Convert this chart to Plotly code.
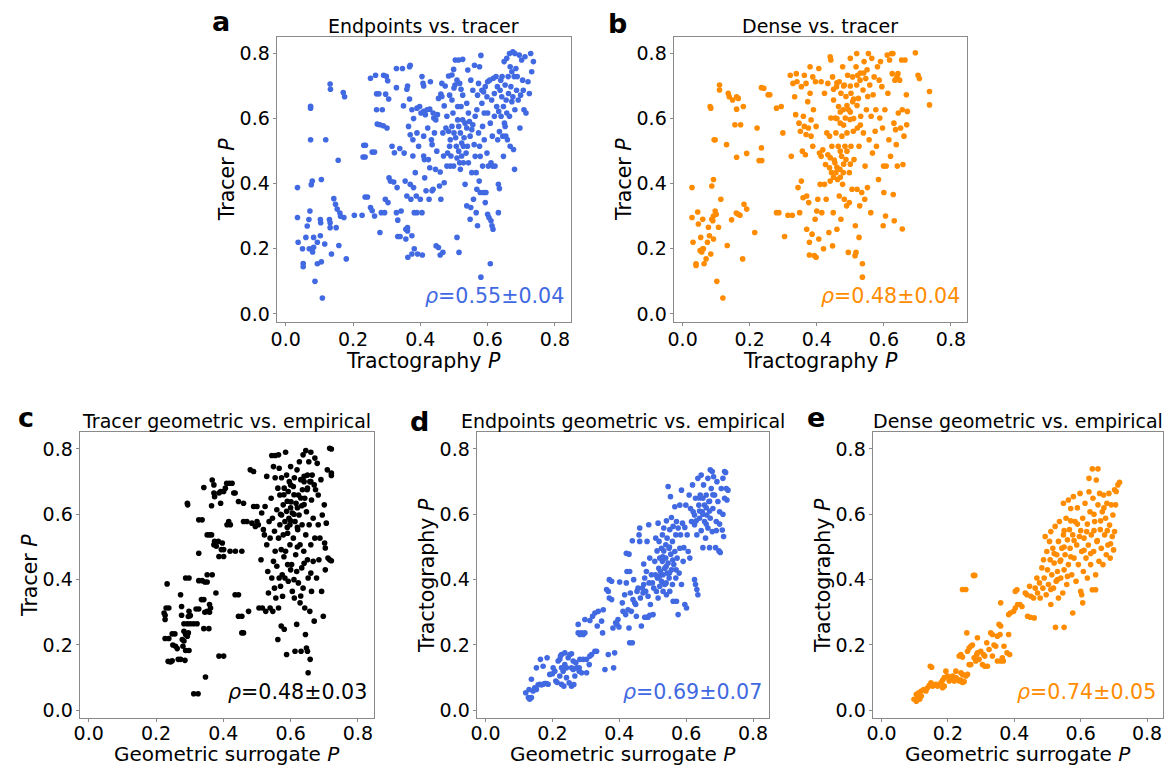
import plotly.graph_objects as go

# ---------------- data ----------------
tick_vals = [0.0, 0.2, 0.4, 0.6, 0.8]
tick_text = ["0.0", "0.2", "0.4", "0.6", "0.8"]

# a: Endpoints vs. tracer  (x = Tractography P, y = Tracer P)
endpoints_vs_tracer = [
    (0.035,0.388),(0.035,0.296),(0.037,0.22),(0.05,0.2),(0.052,0.155),(0.052,0.145),(0.06,0.235),(0.064,0.27),(0.069,0.29),(0.072,0.316),
    (0.074,0.638),(0.074,0.632),(0.074,0.535),(0.076,0.397),(0.079,0.408),(0.07,0.2),(0.08,0.19),(0.083,0.205),(0.083,0.235),(0.087,0.1),
    (0.094,0.22),(0.094,0.154),(0.103,0.29),(0.104,0.28),(0.103,0.24),(0.106,0.413),(0.106,0.16),(0.109,0.049),(0.116,0.215),(0.119,0.535),
    (0.13,0.29),(0.132,0.28),(0.132,0.706),(0.133,0.69),(0.132,0.265),(0.136,0.184),(0.143,0.354),(0.148,0.337),(0.15,0.265),(0.153,0.322),
    (0.156,0.472),(0.158,0.21),(0.161,0.31),(0.163,0.3),(0.171,0.68),(0.175,0.667),(0.173,0.296),(0.18,0.169),(0.204,0.303),(0.227,0.303),
    (0.23,0.482),(0.236,0.482),(0.232,0.518),(0.237,0.518),(0.236,0.359),(0.243,0.359),(0.252,0.724),(0.252,0.327),(0.257,0.317),(0.257,0.497),
    (0.264,0.497),(0.264,0.301),(0.267,0.733),(0.27,0.676),(0.27,0.627),(0.272,0.583),(0.28,0.581),(0.277,0.676),(0.28,0.25),(0.284,0.311),
    (0.287,0.627),(0.29,0.578),(0.291,0.733),(0.294,0.311),(0.296,0.352),(0.297,0.675),(0.299,0.73),(0.301,0.571),(0.303,0.716),(0.304,0.342),
    (0.306,0.66),(0.307,0.418),(0.311,0.408),(0.316,0.515),(0.321,0.405),(0.323,0.495),(0.329,0.695),(0.329,0.754),(0.329,0.311),(0.331,0.388),
    (0.333,0.288),(0.333,0.238),(0.34,0.238),(0.339,0.508),(0.343,0.316),(0.347,0.754),(0.35,0.639),(0.352,0.494),(0.355,0.408),(0.357,0.26),
    (0.362,0.255),(0.362,0.265),(0.357,0.23),(0.36,0.69),(0.362,0.7),(0.36,0.362),(0.363,0.174),(0.365,0.576),(0.368,0.759),(0.37,0.764),
    (0.368,0.66),(0.37,0.55),(0.37,0.398),(0.372,0.352),(0.375,0.627),(0.375,0.24),(0.375,0.184),(0.378,0.535),(0.378,0.485),(0.38,0.6),
    (0.38,0.388),(0.382,0.311),(0.39,0.311),(0.382,0.2),(0.385,0.434),(0.388,0.362),(0.39,0.632),(0.39,0.556),(0.392,0.184),(0.395,0.515),
    (0.398,0.637),(0.4,0.352),(0.402,0.617),(0.405,0.729),(0.405,0.311),(0.406,0.181),(0.408,0.708),(0.41,0.7),(0.41,0.622),(0.41,0.546),
    (0.41,0.485),(0.412,0.474),(0.413,0.418),(0.415,0.612),(0.417,0.378),(0.42,0.627),(0.422,0.571),(0.424,0.474),(0.426,0.352),(0.428,0.629),
    (0.428,0.449),(0.43,0.713),(0.433,0.535),(0.435,0.52),(0.435,0.378),(0.438,0.383),(0.438,0.617),(0.44,0.602),(0.442,0.556),(0.445,0.444),
    (0.446,0.596),(0.447,0.209),(0.454,0.204),(0.449,0.5),(0.451,0.612),(0.454,0.662),(0.457,0.393),(0.459,0.436),(0.459,0.181),(0.461,0.675),
    (0.461,0.352),(0.464,0.668),(0.464,0.708),(0.467,0.189),(0.467,0.556),(0.469,0.485),(0.471,0.639),(0.471,0.403),(0.474,0.7),(0.476,0.571),
    (0.479,0.607),(0.479,0.454),(0.481,0.494),(0.484,0.561),(0.484,0.731),(0.487,0.672),(0.487,0.515),(0.489,0.535),(0.489,0.454),(0.491,0.485),
    (0.494,0.734),(0.494,0.657),(0.494,0.576),(0.497,0.617),(0.499,0.751),(0.499,0.454),(0.5,0.694),(0.503,0.703),(0.5,0.556),(0.504,0.78),
    (0.505,0.541),(0.507,0.515),(0.509,0.718),(0.509,0.479),(0.509,0.235),(0.511,0.637),(0.511,0.596),(0.514,0.78),(0.514,0.576),(0.514,0.5),
    (0.515,0.189),(0.517,0.708),(0.517,0.464),(0.519,0.556),(0.519,0.444),(0.521,0.69),(0.521,0.637),(0.523,0.525),(0.523,0.485),(0.526,0.782),
    (0.526,0.672),(0.526,0.596),(0.528,0.515),(0.528,0.464),(0.53,0.541),(0.533,0.586),(0.533,0.398),(0.536,0.494),(0.538,0.647),(0.538,0.571),
    (0.538,0.332),(0.54,0.515),(0.541,0.749),(0.543,0.617),(0.543,0.464),(0.546,0.591),(0.548,0.291),(0.548,0.546),(0.55,0.718),(0.55,0.327),
    (0.553,0.566),(0.553,0.434),(0.556,0.581),(0.556,0.687),(0.558,0.352),(0.56,0.52),(0.561,0.764),(0.563,0.607),(0.563,0.484),(0.566,0.311),
    (0.566,0.434),(0.568,0.627),(0.568,0.383),(0.57,0.271),(0.57,0.672),(0.573,0.556),(0.573,0.708),(0.575,0.408),(0.576,0.759),(0.576,0.515),
    (0.578,0.373),(0.578,0.484),(0.58,0.794),(0.58,0.113),(0.583,0.687),(0.583,0.647),(0.585,0.576),(0.585,0.454),(0.588,0.682),(0.588,0.373),
    (0.59,0.617),(0.59,0.535),(0.593,0.698),(0.593,0.342),(0.595,0.373),(0.598,0.667),(0.598,0.494),(0.6,0.713),(0.6,0.617),(0.6,0.306),
    (0.602,0.454),(0.604,0.296),(0.606,0.718),(0.608,0.154),(0.608,0.586),(0.61,0.464),(0.61,0.286),(0.613,0.271),(0.616,0.26),(0.612,0.657),
    (0.614,0.546),(0.615,0.454),(0.617,0.724),(0.62,0.677),(0.62,0.607),(0.622,0.454),(0.625,0.729),(0.627,0.637),(0.629,0.698),(0.63,0.535),
    (0.632,0.398),(0.635,0.385),(0.632,0.311),(0.633,0.622),(0.635,0.56),(0.637,0.687),(0.639,0.718),(0.64,0.607),(0.642,0.667),(0.643,0.729),
    (0.645,0.546),(0.647,0.637),(0.647,0.484),(0.649,0.775),(0.65,0.586),(0.652,0.703),(0.652,0.576),(0.654,0.546),(0.655,0.657),(0.657,0.785),
    (0.657,0.617),(0.659,0.535),(0.661,0.729),(0.662,0.677),(0.665,0.8),(0.665,0.607),(0.667,0.759),(0.667,0.515),(0.669,0.698),(0.672,0.744),
    (0.672,0.652),(0.675,0.805),(0.675,0.667),(0.677,0.505),(0.679,0.729),(0.68,0.444),(0.681,0.8),(0.681,0.627),(0.684,0.754),(0.686,0.687),
    (0.688,0.729),(0.691,0.657),(0.694,0.795),(0.696,0.571),(0.698,0.672),(0.701,0.78),(0.704,0.718),(0.706,0.687),(0.708,0.627),(0.711,0.79),
    (0.714,0.617),(0.72,0.713),(0.724,0.677),(0.728,0.8),(0.731,0.744),(0.736,0.775),
]

# b: Dense vs. tracer  (x = Tractography P, y = Tracer P)
dense_vs_tracer = [
    (0.028,0.388),(0.028,0.296),(0.031,0.22),(0.04,0.154),(0.04,0.149),(0.045,0.313),(0.047,0.276),(0.052,0.195),(0.057,0.19),(0.062,0.2),
    (0.06,0.2),(0.054,0.235),(0.06,0.291),(0.064,0.154),(0.07,0.169),(0.074,0.22),(0.077,0.266),(0.08,0.24),(0.082,0.637),(0.084,0.632),
    (0.084,0.184),(0.087,0.291),(0.09,0.286),(0.087,0.393),(0.092,0.413),(0.092,0.301),(0.092,0.23),(0.094,0.535),(0.097,0.535),(0.097,0.316),
    (0.1,0.306),(0.102,0.1),(0.107,0.266),(0.11,0.703),(0.11,0.688),(0.114,0.352),(0.12,0.049),(0.131,0.52),(0.133,0.21),(0.136,0.678),
    (0.139,0.667),(0.146,0.289),(0.149,0.657),(0.156,0.581),(0.161,0.667),(0.166,0.662),(0.161,0.629),(0.161,0.481),(0.16,0.31),(0.166,0.306),
    (0.171,0.303),(0.173,0.581),(0.179,0.169),(0.181,0.637),(0.183,0.337),(0.191,0.322),(0.191,0.493),(0.215,0.25),(0.222,0.571),(0.228,0.471),
    (0.236,0.471),(0.235,0.51),(0.235,0.695),(0.242,0.693),(0.255,0.673),(0.26,0.673),(0.28,0.311),(0.287,0.311),(0.28,0.632),(0.294,0.637),
    (0.299,0.556),(0.304,0.238),(0.314,0.303),(0.321,0.733),(0.324,0.484),(0.327,0.303),(0.329,0.708),(0.334,0.667),(0.337,0.612),(0.339,0.738),
    (0.341,0.713),(0.344,0.388),(0.347,0.586),(0.349,0.311),(0.351,0.561),(0.354,0.408),(0.354,0.698),(0.357,0.5),(0.359,0.357),(0.36,0.607),
    (0.363,0.733),(0.363,0.576),(0.366,0.489),(0.368,0.708),(0.368,0.551),(0.37,0.362),(0.37,0.26),(0.373,0.652),(0.375,0.571),(0.376,0.342),
    (0.378,0.22),(0.378,0.181),(0.38,0.759),(0.38,0.678),(0.383,0.596),(0.383,0.546),(0.386,0.245),(0.388,0.728),(0.388,0.515),(0.39,0.627),
    (0.393,0.179),(0.398,0.174),(0.395,0.291),(0.396,0.713),(0.398,0.576),(0.4,0.316),(0.403,0.352),(0.406,0.754),(0.406,0.23),(0.408,0.494),
    (0.413,0.484),(0.41,0.398),(0.413,0.713),(0.415,0.311),(0.418,0.504),(0.42,0.2),(0.423,0.398),(0.423,0.678),(0.426,0.459),(0.428,0.352),
    (0.43,0.556),(0.433,0.708),(0.433,0.489),(0.436,0.25),(0.438,0.546),(0.438,0.449),(0.44,0.79),(0.442,0.78),(0.44,0.408),(0.442,0.602),
    (0.444,0.434),(0.445,0.515),(0.447,0.728),(0.447,0.209),(0.449,0.311),(0.45,0.657),(0.452,0.473),(0.454,0.464),(0.455,0.602),(0.457,0.556),
    (0.457,0.434),(0.459,0.698),(0.46,0.26),(0.462,0.413),(0.464,0.515),(0.465,0.637),(0.467,0.713),(0.467,0.362),(0.469,0.444),(0.47,0.586),
    (0.472,0.678),(0.472,0.291),(0.474,0.484),(0.475,0.546),(0.477,0.398),(0.477,0.759),(0.479,0.627),(0.479,0.434),(0.482,0.352),(0.482,0.703),
    (0.484,0.515),(0.485,0.602),(0.487,0.474),(0.487,0.668),(0.489,0.332),(0.49,0.556),(0.492,0.733),(0.494,0.189),(0.495,0.627),(0.497,0.434),
    (0.497,0.342),(0.499,0.597),(0.5,0.785),(0.502,0.515),(0.502,0.678),(0.505,0.383),(0.507,0.728),(0.507,0.652),(0.509,0.561),(0.511,0.474),
    (0.514,0.179),(0.517,0.189),(0.515,0.271),(0.517,0.759),(0.519,0.8),(0.519,0.703),(0.52,0.383),(0.521,0.571),(0.522,0.733),(0.524,0.662),
    (0.526,0.515),(0.526,0.235),(0.528,0.332),(0.529,0.718),(0.531,0.607),(0.534,0.373),(0.536,0.154),(0.536,0.113),(0.538,0.688),(0.539,0.556),
    (0.541,0.775),(0.543,0.352),(0.544,0.454),(0.546,0.723),(0.548,0.627),(0.551,0.388),(0.552,0.668),(0.554,0.8),(0.556,0.535),(0.558,0.703),
    (0.561,0.311),(0.562,0.607),(0.564,0.785),(0.566,0.494),(0.568,0.673),(0.571,0.728),(0.574,0.561),(0.576,0.627),(0.578,0.515),(0.581,0.759),
    (0.584,0.413),(0.586,0.718),(0.588,0.602),(0.59,0.775),(0.594,0.698),(0.596,0.571),(0.598,0.271),(0.599,0.454),(0.6,0.373),(0.603,0.627),
    (0.605,0.301),(0.607,0.454),(0.61,0.795),(0.612,0.678),(0.615,0.535),(0.617,0.78),(0.62,0.484),(0.623,0.8),(0.625,0.738),(0.627,0.8),
    (0.628,0.367),(0.63,0.586),(0.631,0.286),(0.633,0.718),(0.635,0.566),(0.637,0.52),(0.639,0.728),(0.64,0.454),(0.642,0.738),(0.643,0.617),
    (0.647,0.718),(0.65,0.571),(0.653,0.78),(0.655,0.261),(0.655,0.627),(0.657,0.459),(0.66,0.546),(0.663,0.78),(0.667,0.673),(0.668,0.581),
    (0.67,0.622),(0.694,0.802),(0.702,0.733),(0.706,0.723),(0.736,0.683),(0.736,0.642),
    (0.46,0.6),(0.47,0.62),(0.48,0.58),(0.49,0.64),(0.5,0.62),(0.51,0.6),(0.52,0.64),(0.53,0.58),(0.47,0.5),(0.48,0.46),
    (0.49,0.5),(0.5,0.46),(0.46,0.45),(0.45,0.42),(0.47,0.42),(0.44,0.48),(0.5,0.7),(0.51,0.66),(0.53,0.74),(0.54,0.74),
    (0.55,0.75),(0.45,0.69),(0.46,0.71),(0.48,0.7),
]

# c: Tracer geometric vs. empirical  (x = Geometric surrogate P, y = Tracer P)
tracer_geo_vs_emp = [
    (0.224,0.298),(0.227,0.291),(0.227,0.278),(0.23,0.313),(0.238,0.313),(0.233,0.387),(0.227,0.22),(0.238,0.22),(0.236,0.15),(0.243,0.148),
    (0.248,0.152),(0.248,0.234),(0.256,0.234),(0.25,0.2),(0.258,0.196),(0.263,0.189),(0.266,0.156),(0.273,0.156),(0.273,0.354),(0.276,0.318),
    (0.276,0.291),(0.278,0.217),(0.283,0.212),(0.28,0.196),(0.283,0.242),(0.283,0.265),(0.293,0.265),(0.302,0.265),(0.312,0.265),(0.322,0.265),
    (0.286,0.153),(0.288,0.232),(0.293,0.227),(0.296,0.237),(0.288,0.183),(0.298,0.183),(0.288,0.405),(0.298,0.405),(0.293,0.634),(0.294,0.629),
    (0.296,0.287),(0.298,0.303),(0.302,0.29),(0.312,0.051),(0.325,0.051),(0.319,0.31),(0.327,0.31),(0.327,0.481),(0.327,0.583),(0.337,0.583),
    (0.327,0.397),(0.337,0.397),(0.345,0.393),(0.352,0.393),(0.335,0.339),(0.342,0.339),(0.342,0.25),(0.357,0.25),(0.342,0.682),(0.345,0.3),
    (0.352,0.303),(0.359,0.3),(0.362,0.313),(0.347,0.102),(0.352,0.537),(0.359,0.537),(0.365,0.537),(0.352,0.415),(0.367,0.415),(0.359,0.324),
    (0.365,0.626),(0.367,0.705),(0.372,0.69),(0.372,0.665),(0.374,0.654),(0.372,0.507),(0.379,0.502),(0.374,0.517),(0.385,0.517),(0.397,0.512),
    (0.378,0.359),(0.387,0.665),(0.392,0.67),(0.387,0.166),(0.401,0.166),(0.392,0.634),(0.394,0.492),(0.401,0.492),(0.387,0.471),(0.401,0.471),
    (0.401,0.67),(0.406,0.68),(0.41,0.695),(0.418,0.695),(0.426,0.695),(0.431,0.665),(0.435,0.665),(0.411,0.568),(0.421,0.568),(0.416,0.578),
    (0.42,0.487),(0.436,0.487),(0.455,0.487),(0.435,0.354),(0.445,0.354),(0.445,0.288),(0.455,0.288),(0.445,0.639),(0.46,0.634),(0.455,0.237),
    (0.46,0.237),(0.46,0.578),(0.47,0.578),(0.475,0.303),(0.48,0.736),(0.49,0.731),(0.49,0.624),(0.5,0.624),(0.485,0.573),(0.495,0.563),
    (0.5,0.578),(0.504,0.568),(0.506,0.313),(0.516,0.313),(0.512,0.461),(0.514,0.604),(0.519,0.553),(0.522,0.537),(0.524,0.624),(0.526,0.303),
    (0.529,0.716),(0.529,0.507),(0.532,0.425),(0.534,0.359),(0.536,0.578),(0.539,0.527),(0.539,0.313),(0.542,0.649),(0.544,0.78),(0.554,0.78),
    (0.564,0.782),(0.544,0.405),(0.546,0.588),(0.547,0.303),(0.549,0.746),(0.549,0.456),(0.552,0.548),(0.552,0.374),(0.554,0.712),(0.554,0.487),
    (0.556,0.344),(0.559,0.614),(0.559,0.441),(0.562,0.68),(0.562,0.217),(0.564,0.527),(0.564,0.313),(0.566,0.741),(0.566,0.405),(0.568,0.568),
    (0.568,0.659),(0.572,0.492),(0.572,0.258),(0.573,0.712),(0.573,0.598),(0.575,0.415),(0.576,0.349),(0.578,0.629),(0.578,0.537),(0.581,0.248),
    (0.581,0.68),(0.583,0.405),(0.583,0.578),(0.585,0.79),(0.585,0.487),(0.588,0.72),(0.588,0.609),(0.588,0.171),(0.591,0.542),(0.591,0.446),
    (0.593,0.67),(0.593,0.395),(0.595,0.588),(0.596,0.7),(0.598,0.507),(0.598,0.568),(0.6,0.746),(0.601,0.638),(0.603,0.446),(0.605,0.364),
    (0.605,0.604),(0.608,0.527),(0.608,0.685),(0.611,0.712),(0.611,0.344),(0.613,0.578),(0.613,0.181),(0.615,0.476),(0.616,0.634),(0.618,0.425),
    (0.618,0.263),(0.619,0.736),(0.621,0.553),(0.623,0.659),(0.623,0.39),(0.625,0.598),(0.626,0.761),(0.628,0.507),(0.628,0.329),(0.63,0.706),
    (0.631,0.181),(0.633,0.436),(0.633,0.626),(0.634,0.568),(0.635,0.675),(0.637,0.782),(0.637,0.374),(0.639,0.487),(0.64,0.716),(0.642,0.313),
    (0.642,0.649),(0.644,0.232),(0.645,0.795),(0.645,0.537),(0.647,0.608),(0.647,0.191),(0.65,0.181),(0.649,0.675),(0.65,0.461),(0.652,0.405),
    (0.652,0.115),(0.654,0.761),(0.655,0.568),(0.657,0.7),(0.657,0.303),(0.658,0.156),(0.66,0.79),(0.66,0.507),(0.662,0.644),(0.662,0.364),
    (0.664,0.72),(0.667,0.588),(0.667,0.456),(0.67,0.273),(0.672,0.772),(0.672,0.527),(0.674,0.675),(0.677,0.405),(0.679,0.756),(0.682,0.568),
    (0.682,0.659),(0.684,0.461),(0.687,0.527),(0.69,0.706),(0.692,0.364),(0.694,0.598),(0.697,0.288),(0.7,0.629),(0.701,0.512),(0.703,0.497),
    (0.703,0.43),(0.706,0.573),(0.709,0.736),(0.711,0.466),(0.716,0.461),(0.721,0.458),(0.716,0.802),(0.721,0.8),(0.721,0.726),(0.721,0.719),
    (0.58,0.66),(0.59,0.64),(0.6,0.62),(0.6,0.58),(0.61,0.6),(0.62,0.62),(0.63,0.65),(0.64,0.7),(0.65,0.72),(0.65,0.68),
    (0.66,0.7),(0.67,0.69),(0.64,0.63),(0.62,0.56),(0.61,0.66),(0.6,0.69),(0.59,0.56),(0.57,0.6),(0.58,0.47),(0.6,0.43),
    (0.62,0.5),(0.64,0.45),(0.66,0.42),(0.63,0.35),(0.61,0.4),(0.57,0.38),
]

# d: Endpoints geometric vs. empirical  (x = Geometric surrogate P, y = Tractography P)
endpoints_geo_vs_emp = [
    (0.12,0.054),(0.128,0.039),(0.132,0.034),(0.137,0.039),(0.13,0.064),(0.137,0.095),(0.142,0.059),(0.147,0.069),(0.152,0.064),(0.152,0.13),
    (0.157,0.078),(0.162,0.08),(0.167,0.078),(0.172,0.08),(0.177,0.082),(0.182,0.082),(0.187,0.08),(0.164,0.156),(0.172,0.135),(0.184,0.161),
    (0.192,0.11),(0.2,0.112),(0.202,0.13),(0.207,0.12),(0.21,0.09),(0.214,0.085),(0.217,0.151),(0.222,0.156),(0.222,0.105),(0.224,0.166),
    (0.227,0.171),(0.227,0.08),(0.234,0.074),(0.227,0.13),(0.232,0.12),(0.237,0.14),(0.242,0.13),(0.237,0.176),(0.242,0.1),(0.247,0.161),
    (0.25,0.084),(0.257,0.074),(0.264,0.079),(0.252,0.171),(0.257,0.173),(0.257,0.13),(0.262,0.125),(0.262,0.151),(0.27,0.146),(0.267,0.105),
    (0.272,0.13),(0.28,0.13),(0.277,0.237),(0.282,0.232),(0.287,0.237),(0.292,0.232),(0.297,0.237),(0.277,0.263),(0.28,0.12),(0.287,0.115),
    (0.282,0.156),(0.292,0.156),(0.302,0.156),(0.297,0.278),(0.302,0.115),(0.31,0.14),(0.312,0.166),(0.317,0.171),(0.312,0.275),(0.32,0.288),
    (0.327,0.298),(0.327,0.181),(0.332,0.181),(0.334,0.258),(0.337,0.303),(0.347,0.273),(0.35,0.237),(0.352,0.308),(0.357,0.125),(0.362,0.37),
    (0.367,0.364),(0.367,0.171),(0.37,0.4),(0.377,0.395),(0.37,0.344),(0.377,0.339),(0.381,0.252),(0.383,0.13),(0.386,0.176),(0.389,0.268),
    (0.393,0.263),(0.396,0.278),(0.399,0.255),(0.401,0.393),(0.409,0.329),(0.411,0.303),(0.416,0.354),(0.419,0.293),(0.421,0.39),(0.421,0.481),
    (0.429,0.478),(0.423,0.425),(0.431,0.425),(0.426,0.308),(0.429,0.252),(0.431,0.207),(0.439,0.207),(0.433,0.359),(0.436,0.303),(0.439,0.519),
    (0.441,0.339),(0.443,0.4),(0.446,0.329),(0.449,0.324),(0.451,0.288),(0.453,0.364),(0.456,0.374),(0.459,0.537),(0.461,0.558),(0.461,0.517),
    (0.463,0.344),(0.466,0.258),(0.469,0.374),(0.473,0.385),(0.471,0.359),(0.473,0.448),(0.476,0.405),(0.476,0.285),(0.481,0.285),(0.486,0.285),
    (0.491,0.291),(0.479,0.364),(0.481,0.425),(0.483,0.517),(0.486,0.349),(0.488,0.568),(0.489,0.39),(0.491,0.466),(0.493,0.324),(0.496,0.415),
    (0.499,0.39),(0.501,0.293),(0.503,0.374),(0.506,0.456),(0.508,0.415),(0.509,0.527),(0.511,0.364),(0.513,0.488),(0.514,0.405),(0.516,0.573),
    (0.516,0.344),(0.518,0.435),(0.519,0.517),(0.521,0.38),(0.521,0.466),(0.523,0.425),(0.526,0.496),(0.526,0.395),(0.529,0.456),(0.529,0.537),
    (0.531,0.415),(0.531,0.364),(0.533,0.488),(0.533,0.558),(0.536,0.435),(0.536,0.385),(0.539,0.507),(0.539,0.466),(0.541,0.58),(0.541,0.354),
    (0.543,0.42),(0.543,0.527),(0.546,0.451),(0.546,0.685),(0.549,0.405),(0.549,0.496),(0.551,0.553),(0.551,0.364),(0.553,0.654),(0.554,0.478),
    (0.556,0.43),(0.556,0.59),(0.559,0.517),(0.559,0.385),(0.561,0.563),(0.561,0.334),(0.563,0.446),(0.566,0.623),(0.566,0.486),(0.569,0.405),
    (0.569,0.537),(0.571,0.578),(0.571,0.334),(0.573,0.466),(0.576,0.293),(0.576,0.558),(0.579,0.42),(0.581,0.628),(0.581,0.496),(0.583,0.537),
    (0.586,0.385),(0.586,0.674),(0.589,0.573),(0.591,0.456),(0.593,0.498),(0.596,0.56),(0.596,0.324),(0.599,0.628),(0.601,0.313),(0.603,0.537),
    (0.606,0.486),(0.609,0.659),(0.611,0.466),(0.613,0.618),(0.616,0.578),(0.619,0.69),(0.621,0.608),(0.625,0.598),(0.625,0.4),(0.628,0.385),
    (0.632,0.37),(0.635,0.354),(0.625,0.568),(0.628,0.649),(0.632,0.537),(0.635,0.71),(0.638,0.628),(0.64,0.588),(0.642,0.659),(0.645,0.72),
    (0.645,0.55),(0.648,0.608),(0.65,0.649),(0.65,0.498),(0.652,0.69),(0.655,0.578),(0.655,0.628),(0.658,0.527),(0.66,0.659),(0.662,0.598),
    (0.665,0.71),(0.665,0.558),(0.668,0.639),(0.67,0.498),(0.672,0.736),(0.678,0.731),(0.672,0.588),(0.675,0.679),(0.678,0.547),(0.68,0.618),
    (0.682,0.715),(0.685,0.659),(0.688,0.498),(0.69,0.578),(0.692,0.7),(0.695,0.639),(0.698,0.488),(0.702,0.483),(0.7,0.608),(0.705,0.679),
    (0.708,0.552),(0.71,0.71),(0.712,0.532),(0.715,0.731),(0.718,0.728),(0.715,0.649),(0.72,0.679),(0.722,0.644),(0.725,0.674),
    (0.64,0.61),(0.65,0.6),(0.66,0.62),(0.67,0.64),(0.64,0.65),(0.63,0.58),(0.66,0.57),(0.67,0.61),(0.68,0.66),(0.54,0.44),
    (0.55,0.42),(0.53,0.47),(0.56,0.46),(0.55,0.5),(0.52,0.41),(0.57,0.43),(0.54,0.39),(0.69,0.55),(0.7,0.57),(0.71,0.6),
]

# e: Dense geometric vs. empirical  (x = Geometric surrogate P, y = Tractography P)
dense_geo_vs_emp = [
    (0.098,0.034),(0.105,0.028),(0.11,0.039),(0.105,0.049),(0.112,0.054),(0.115,0.034),(0.12,0.044),(0.12,0.059),(0.127,0.064),(0.134,0.059),
    (0.139,0.069),(0.144,0.077),(0.149,0.084),(0.147,0.135),(0.151,0.132),(0.154,0.074),(0.159,0.077),(0.164,0.08),(0.169,0.074),(0.179,0.084),
    (0.184,0.092),(0.189,0.1),(0.184,0.069),(0.189,0.074),(0.194,0.12),(0.199,0.105),(0.204,0.095),(0.209,0.1),(0.204,0.09),(0.214,0.105),
    (0.219,0.09),(0.224,0.1),(0.229,0.095),(0.224,0.12),(0.234,0.166),(0.239,0.171),(0.244,0.163),(0.234,0.09),(0.239,0.093),(0.244,0.085),
    (0.249,0.088),(0.239,0.115),(0.244,0.11),(0.244,0.37),(0.254,0.37),(0.254,0.105),(0.259,0.11),(0.257,0.237),(0.259,0.181),(0.264,0.191),
    (0.264,0.14),(0.269,0.14),(0.269,0.196),(0.274,0.2),(0.277,0.413),(0.281,0.413),(0.279,0.161),(0.284,0.151),(0.287,0.171),(0.289,0.176),
    (0.289,0.222),(0.294,0.156),(0.299,0.181),(0.304,0.14),(0.311,0.135),(0.319,0.135),(0.307,0.171),(0.311,0.166),(0.317,0.207),(0.324,0.186),
    (0.329,0.237),(0.334,0.232),(0.334,0.166),(0.339,0.2),(0.344,0.196),(0.349,0.151),(0.359,0.151),(0.349,0.227),(0.357,0.232),(0.354,0.263),
    (0.359,0.258),(0.359,0.329),(0.364,0.161),(0.367,0.151),(0.369,0.196),(0.378,0.176),(0.386,0.171),(0.383,0.232),(0.383,0.293),(0.388,0.298),
    (0.398,0.303),(0.403,0.313),(0.403,0.364),(0.408,0.369),(0.41,0.324),(0.417,0.324),(0.423,0.318),(0.433,0.359),(0.438,0.354),(0.44,0.288),
    (0.448,0.285),(0.46,0.283),(0.446,0.38),(0.45,0.349),(0.458,0.344),(0.463,0.374),(0.468,0.405),(0.47,0.359),(0.476,0.39),(0.478,0.344),
    (0.483,0.436),(0.486,0.374),(0.488,0.461),(0.49,0.405),(0.493,0.532),(0.496,0.354),(0.498,0.486),(0.5,0.43),(0.503,0.385),(0.506,0.517),
    (0.508,0.461),(0.51,0.547),(0.51,0.324),(0.513,0.415),(0.516,0.496),(0.518,0.374),(0.52,0.451),(0.523,0.563),(0.524,0.254),(0.55,0.254),
    (0.526,0.395),(0.528,0.476),(0.53,0.425),(0.533,0.517),(0.533,0.344),(0.536,0.578),(0.538,0.456),(0.54,0.405),(0.543,0.496),(0.546,0.359),
    (0.548,0.537),(0.548,0.634),(0.55,0.43),(0.553,0.476),(0.556,0.588),(0.558,0.385),(0.56,0.522),(0.563,0.644),(0.563,0.446),(0.566,0.553),
    (0.568,0.496),(0.57,0.618),(0.573,0.415),(0.576,0.298),(0.576,0.537),(0.578,0.654),(0.58,0.466),(0.583,0.578),(0.586,0.395),(0.588,0.506),
    (0.59,0.62),(0.593,0.446),(0.596,0.532),(0.598,0.664),(0.6,0.364),(0.603,0.354),(0.606,0.329),(0.603,0.486),(0.606,0.588),(0.608,0.425),
    (0.61,0.527),(0.613,0.634),(0.616,0.466),(0.618,0.547),(0.62,0.405),(0.623,0.506),(0.625,0.669),(0.625,0.71),(0.628,0.608),(0.63,0.446),
    (0.632,0.537),(0.635,0.739),(0.652,0.739),(0.635,0.369),(0.645,0.369),(0.637,0.649),(0.639,0.486),(0.642,0.578),(0.645,0.415),(0.647,0.705),
    (0.649,0.517),(0.652,0.629),(0.655,0.456),(0.657,0.664),(0.659,0.553),(0.662,0.496),(0.665,0.608),(0.667,0.446),(0.669,0.659),(0.672,0.537),
    (0.675,0.588),(0.677,0.476),(0.679,0.634),(0.682,0.506),(0.685,0.664),(0.687,0.567),(0.689,0.466),(0.692,0.629),(0.695,0.532),(0.697,0.598),
    (0.699,0.491),(0.702,0.675),(0.707,0.67),(0.702,0.547),(0.705,0.629),(0.712,0.69),(0.717,0.698),
    (0.52,0.48),(0.54,0.46),(0.55,0.5),(0.57,0.47),(0.58,0.52),(0.6,0.55),(0.62,0.57),(0.64,0.55),(0.66,0.58),(0.65,0.52),
    (0.63,0.48),(0.61,0.49),(0.59,0.57),(0.57,0.58),(0.55,0.55),(0.68,0.55),(0.69,0.51),(0.67,0.62),(0.64,0.6),(0.53,0.4),
    (0.51,0.37),(0.56,0.41),
]

panel_letters = ["a", "b", "c", "d", "e"]
panel_titles = ["Endpoints vs. tracer", "Dense vs. tracer", "Tracer geometric vs. empirical",
                "Endpoints geometric vs. empirical", "Dense geometric vs. empirical"]
x_labels = ["Tractography <i>P</i>", "Tractography <i>P</i>", "Geometric surrogate <i>P</i>",
            "Geometric surrogate <i>P</i>", "Geometric surrogate <i>P</i>"]
y_labels = ["Tracer <i>P</i>", "Tracer <i>P</i>", "Tracer <i>P</i>",
            "Tractography <i>P</i>", "Tractography <i>P</i>"]
rho_texts = ["<i>ρ</i>=0.55±0.04", "<i>ρ</i>=0.48±0.04", "<i>ρ</i>=0.48±0.03",
             "<i>ρ</i>=0.69±0.07", "<i>ρ</i>=0.74±0.05"]
panel_data = [endpoints_vs_tracer, dense_vs_tracer, tracer_geo_vs_emp,
              endpoints_geo_vs_emp, dense_geo_vs_emp]

# ---------------- styling / layout ----------------
W, H = 1170, 768
BLUE, ORANGE, BLACK = "#4169E1", "#FF8C00", "#000000"
colors = [BLUE, ORANGE, BLACK, BLUE, ORANGE]
FONT = "DejaVu Sans"
# axes boxes in pixels: left, right, top, bottom
boxes = [(272, 568, 37, 323), (671, 966, 37, 323),
         (74, 370, 434, 721), (473, 767, 434, 721), (871, 1163, 434, 721)]
# panel letter centres (px)
letter_pos = [(216, 22), (615, 24), (20, 419), (416, 423), (814, 419)]
# x-label offset below the box and tick-label standoff, per row
xlabel_off = [39.5, 39.5, 35.5, 35.5, 35.5]
xlabel_size = [20.5, 20.5, 20, 20, 20]
xtick_standoff = [-3, -3, -5, -5, -5]
XR = [-0.027, 0.848]
YR = [-0.024, 0.851]


def px(x):
    return x / W


def py(y):
    return 1 - y / H


fig = go.Figure()
layout = dict(width=W, height=H, margin=dict(l=0, r=0, t=0, b=0),
              paper_bgcolor="white", plot_bgcolor="white", showlegend=False,
              font=dict(family=FONT, color="black"))
annotations = []

for i, pts in enumerate(panel_data):
    n = "" if i == 0 else str(i + 1)
    l, r, t, b = boxes[i]
    fig.add_trace(go.Scatter(
        x=[p[0] for p in pts], y=[p[1] for p in pts], mode="markers",
        marker=dict(size=5.6, color=colors[i], line=dict(width=0)),
        xaxis="x" + n, yaxis="y" + n, hoverinfo="skip"))
    axis_common = dict(showgrid=False, zeroline=False, showline=True,
                       linecolor="#8a8a8a", linewidth=1, mirror=True,
                       ticks="outside", ticklen=3, tickcolor="#8a8a8a", tickwidth=1,
                       tickvals=tick_vals, ticktext=tick_text,
                       tickfont=dict(family=FONT, size=19, color="black"))
    xa = dict(axis_common)
    xa.update(range=XR, domain=[px(l), px(r)], anchor="y" + n, ticklabelstandoff=xtick_standoff[i])
    ya = dict(axis_common)
    ya.update(range=YR, domain=[py(b), py(t)], anchor="x" + n, ticklabelstandoff=-1)
    layout["xaxis" + n] = xa
    layout["yaxis" + n] = ya

    cx = (l + r) / 2
    cy = (t + b) / 2
    # title
    annotations.append(dict(text=panel_titles[i], x=px(cx), y=py(t - 11), xref="paper", yref="paper",
                            xanchor="center", yanchor="middle", showarrow=False,
                            font=dict(family=FONT, size=19, color="black")))
    # panel letter
    lx, ly = letter_pos[i]
    annotations.append(dict(text="<b>" + panel_letters[i] + "</b>", x=px(lx), y=py(ly),
                            xref="paper", yref="paper", xanchor="center", yanchor="middle",
                            showarrow=False, font=dict(family=FONT, size=27, color="black")))
    # x label
    annotations.append(dict(text=x_labels[i], x=px(cx), y=py(b + xlabel_off[i]), xref="paper", yref="paper",
                            xanchor="center", yanchor="middle", showarrow=False,
                            font=dict(family=FONT, size=xlabel_size[i], color="black")))
    # y label
    annotations.append(dict(text=y_labels[i], x=px(l - 50), y=py(cy), xref="paper", yref="paper",
                            xanchor="center", yanchor="middle", textangle=-90, showarrow=False,
                            font=dict(family=FONT, size=20.5, color="black")))
    # correlation text
    annotations.append(dict(text=rho_texts[i], x=px(r - 5), y=py(b - 26), xref="paper", yref="paper",
                            xanchor="right", yanchor="middle", showarrow=False,
                            font=dict(family=FONT, size=20.6, color=colors[i])))

layout["annotations"] = annotations
fig.update_layout(**layout)
fig.write_html("out.html")
